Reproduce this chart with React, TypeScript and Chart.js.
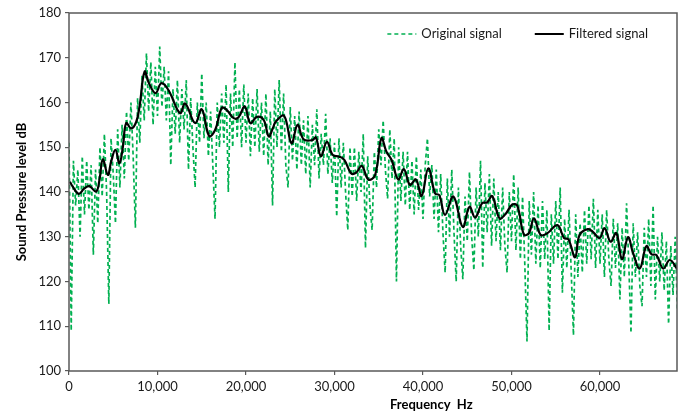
import React, { useEffect, useRef } from "react";
import { Chart, registerables } from "chart.js";

Chart.register(...registerables);

// Original (unfiltered) signal: one level every ORIGINAL_STEP_HZ starting at 0 Hz
const ORIGINAL_STEP_HZ = 250;
const ORIGINAL_DB = [
  151, 109, 147, 137, 145, 130, 148, 135,
  147, 136, 146, 126, 145, 133, 150, 139,
  153, 140, 115, 152, 144, 133, 154, 141,
  155, 143, 158, 147, 160, 148, 132, 161,
  151, 166, 156, 171, 158, 169, 155, 168,
  157, 172.5, 159, 168, 156, 167, 146, 163,
  153, 165, 151, 163, 154, 165, 145, 161,
  150, 141, 160, 151, 166.5, 152, 160, 148,
  158, 146, 134, 160, 150, 162, 151, 164,
  140, 162, 150, 169, 152, 163, 150, 164,
  151, 162, 148, 161, 150, 163, 149, 160,
  148, 162, 146, 158, 137, 163, 150, 165,
  149, 162, 146, 141, 159, 147, 157, 145,
  158, 146, 156, 144, 157, 141, 155, 146,
  158.5, 143, 153, 146, 157.5, 144, 152, 142,
  151, 134.5, 152, 141, 151, 140, 131.5, 150,
  139, 150, 138, 149, 140, 153, 127.5, 148,
  137, 131.5, 149, 141, 154, 146, 156, 145,
  138.5, 154, 143, 152, 120, 150, 138, 149,
  137, 149, 136, 147, 135, 148, 136, 145,
  134, 146, 152, 139, 146, 134, 145, 131,
  144, 131, 122, 143, 130, 145, 131, 120,
  141, 128, 120.5, 139, 129, 144.5, 130, 122.5,
  141, 130, 147, 123, 142, 131, 144, 128,
  143, 129, 140, 127, 141, 128, 122, 140,
  129, 144, 127, 141, 125, 139, 124, 106.6,
  138, 126, 140, 124, 137, 123, 138, 125,
  136, 109, 135, 124, 138, 125, 141, 117.5,
  134, 123, 136, 122, 108, 135, 121, 133,
  122, 136, 124, 137, 125, 138.5, 123, 136,
  124, 135, 121, 136, 125, 119, 134, 123,
  133, 116, 132, 121, 137.5, 124, 108.5, 133,
  121, 131, 119, 114.5, 132, 121, 134, 119,
  137, 116, 130, 120, 131, 118, 129, 110.5,
  128, 117, 130, 113.6,
];

// Filtered signal
const FILTERED_HZ = [
  100, 420, 1100, 1735, 2300, 3060, 3440, 3820, 4390, 4760,
  5250, 5700, 6090, 6460, 7030, 7600, 7970, 8540, 9040, 9790,
  10430, 11230, 12550, 13120, 14250, 15000, 15840, 16520, 17270, 17840,
  18600, 19160, 19850, 20490, 21240, 22000, 22570, 23020, 23360, 24300,
  25140, 25820, 26500, 27520, 27900, 28460, 29140, 29790, 30540, 31110,
  31870, 32430, 33080, 33830, 34590, 35300, 35870, 36440, 37200, 37840,
  38520, 39200, 39840, 40600, 41360, 41840, 42490, 43430, 44490, 45250,
  45890, 46690, 47250, 47820, 48650, 49330, 50090, 50660, 51400, 51970,
  52540, 53300, 54060, 55190, 55940, 56440, 57190, 57690, 58630, 59200,
  59950, 60520, 61200, 61840, 62480, 63160, 63730, 64490, 65240, 65810,
  66380, 67130, 67890, 68750,
];
const FILTERED_DB = [
  142.3, 141.2, 139.6, 140.8, 141.3, 140.1, 142.7, 147.3, 143.8, 146.8,
  149.4, 146.4, 150.1, 155.4, 154.2, 155.7, 159.1, 166.9, 164.3, 162.1,
  164.3, 162.8, 157.6, 159.8, 155.4, 158.5, 152.5, 153.9, 158.8, 158.3,
  156.5, 156.7, 159.1, 155.4, 156.8, 156.1, 152.4, 154.2, 155.7, 157.0,
  150.9, 155.0, 151.8, 151.6, 152.2, 148.0, 151.2, 148.3, 147.9, 147.2,
  144.2, 144.3, 145.8, 142.8, 143.8, 152.0, 149.0, 147.2, 142.8, 145.1,
  141.6, 142.8, 139.1, 145.3, 139.7, 139.3, 134.9, 139.0, 132.2, 136.7,
  134.3, 137.5, 137.7, 139.1, 134.1, 135.1, 137.2, 136.9, 130.5, 130.8,
  134.1, 130.4, 130.8, 132.6, 129.7, 129.4, 125.4, 130.4, 131.7, 131.1,
  129.7, 131.9, 128.9, 130.8, 125.0, 129.9, 126.4, 122.9, 127.9, 126.1,
  125.9, 122.9, 124.8, 122.7,
];

const X_MIN = 0;
const X_MAX = 68700;
const X_TICKS = [0, 10000, 20000, 30000, 40000, 50000, 60000];
const Y_MIN = 100;
const Y_MAX = 180;
const Y_TICKS = [100, 110, 120, 130, 140, 150, 160, 170, 180];

const SERIES_NAMES = ["Original signal", "Filtered signal"];
const X_TITLE = "Frequency  Hz";
const Y_TITLE = "Sound Pressure level dB";

const GREEN = "#00B050";
const AXIS = "#595959";
const FONT = "Lato, 'Open Sans', sans-serif";

const framePlugin = {
  id: "frameAndLabels",
  afterDraw(chart: any) {
    const { ctx, chartArea } = chart;
    const { left, right, top, bottom } = chartArea;
    ctx.save();
    // plot frame
    ctx.strokeStyle = AXIS;
    ctx.lineWidth = 1.5;
    ctx.setLineDash([]);
    ctx.strokeRect(left, top, right - left, bottom - top);

    // x axis title (offset to the right as in the reference)
    ctx.fillStyle = "#000";
    ctx.font = `bold 13px ${FONT}`;
    ctx.textAlign = "center";
    ctx.textBaseline = "middle";
    ctx.fillText(X_TITLE, left + (right - left) * 0.596, bottom + 34);

    // legend inside the plot, top right
    ctx.font = `13px ${FONT}`;
    ctx.textAlign = "left";
    ctx.fillStyle = "#1a1a1a";
    const y = top + 21;
    const lineLen = 29;
    const gap = 5;
    const w2 = ctx.measureText(SERIES_NAMES[1]).width;
    const t2 = right - 29 - w2;
    const l2 = t2 - gap - lineLen;
    const w1 = ctx.measureText(SERIES_NAMES[0]).width;
    const t1 = l2 - 33 - w1;
    const l1 = t1 - gap - lineLen;

    ctx.strokeStyle = GREEN;
    ctx.lineWidth = 1.6;
    ctx.setLineDash([4, 3]);
    ctx.beginPath();
    ctx.moveTo(l1, y);
    ctx.lineTo(l1 + lineLen, y);
    ctx.stroke();
    ctx.fillText(SERIES_NAMES[0], t1, y);

    ctx.strokeStyle = "#000";
    ctx.lineWidth = 2;
    ctx.setLineDash([]);
    ctx.beginPath();
    ctx.moveTo(l2, y);
    ctx.lineTo(l2 + lineLen, y);
    ctx.stroke();
    ctx.fillText(SERIES_NAMES[1], t2, y);
    ctx.restore();
  },
};

export default function App() {
  const canvasRef = useRef<HTMLCanvasElement | null>(null);

  useEffect(() => {
    document.body.style.margin = "0";
    const canvas = canvasRef.current;
    if (!canvas) return;

    const originalPoints = ORIGINAL_DB.map((v, i) => ({ x: i * ORIGINAL_STEP_HZ, y: v }));
    const filteredPoints = FILTERED_HZ.map((hz, i) => ({ x: hz, y: FILTERED_DB[i] }));

    const chart = new Chart(canvas, {
      type: "line",
      data: {
        datasets: [
          {
            label: SERIES_NAMES[1],
            data: filteredPoints,
            borderColor: "#000",
            borderWidth: 2.2,
            pointRadius: 0,
            tension: 0.4,
            fill: false,
            order: 0,
          },
          {
            label: SERIES_NAMES[0],
            data: originalPoints,
            borderColor: GREEN,
            borderWidth: 1.7,
            borderDash: [4, 3],
            pointRadius: 0,
            tension: 0,
            fill: false,
            order: 1,
          },
        ],
      },
      options: {
        responsive: false,
        animation: false,
        devicePixelRatio: 1,
        layout: { padding: { top: 13, right: 9, left: 0, bottom: 0 } },
        plugins: {
          legend: { display: false },
          tooltip: { enabled: false },
        },
        scales: {
          x: {
            type: "linear",
            min: X_MIN,
            max: X_MAX,
            afterFit: (s: any) => {
              s.height = 47;
            },
            afterBuildTicks: (s: any) => {
              s.ticks = X_TICKS.map((v) => ({ value: v }));
            },
            ticks: {
              font: { family: FONT, size: 13 },
              color: "#1a1a1a",
              padding: 4,
              maxRotation: 0,
              callback: (v: any) => Number(v).toLocaleString("en-US"),
            },
            grid: {
              display: true,
              drawOnChartArea: false,
              drawTicks: true,
              tickLength: 4,
              color: AXIS,
              lineWidth: 1.2,
            },
            border: { display: false },
          },
          y: {
            type: "linear",
            min: Y_MIN,
            max: Y_MAX,
            afterFit: (s: any) => {
              s.width = 69;
            },
            afterBuildTicks: (s: any) => {
              s.ticks = Y_TICKS.map((v) => ({ value: v }));
            },
            ticks: {
              font: { family: FONT, size: 13 },
              color: "#1a1a1a",
              padding: 4,
            },
            grid: {
              display: true,
              drawOnChartArea: false,
              drawTicks: true,
              tickLength: 4,
              color: AXIS,
              lineWidth: 1.2,
            },
            border: { display: false },
            title: {
              display: true,
              text: Y_TITLE,
              color: "#000",
              font: { family: FONT, size: 13, weight: "bold" },
              padding: { top: 14, bottom: 0 },
            },
          },
        },
      },
      plugins: [framePlugin],
    });

    return () => chart.destroy();
  }, []);

  return (
    <div style={{ width: 686, height: 418 }}>
      <canvas ref={canvasRef} width={686} height={418} />
    </div>
  );
}
